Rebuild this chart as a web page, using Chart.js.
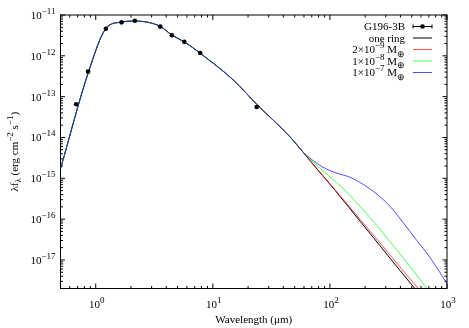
<!DOCTYPE html>
<html>
<head>
<meta charset="utf-8">
<script src="https://cdn.jsdelivr.net/npm/chart.js@4.4.0/dist/chart.umd.min.js"></script>
<style>
html, body { margin: 0; padding: 0; background: #fff; }
canvas { display: block; }
</style>
</head>
<body>
<canvas id="sed" width="469" height="328"></canvas>
<script>
// photometry of G196-3B (wavelength in micron, lambda*f_lambda in erg cm^-2 s^-1)
const obsWave = [0.68, 0.86, 1.22, 1.66, 2.16, 3.55, 4.47, 5.7, 7.8, 23.7]
const obsFlux = [6.5e-14, 4.1e-13, 4.6e-12, 6.6e-12, 7.2e-12, 5.2e-12, 3.2e-12, 2.2e-12, 1.17e-12, 5.6e-14]

// model part where all four curves lie on top of each other
const modelWave = [0.5, 0.87, 1.23, 1.65, 2.15, 3.54, 4.48, 5.71, 7.82, 15.0, 23.7, 45.7, 59.3]
const modelFlux = [1.71e-15, 4.15e-13, 4.8e-12, 6.7e-12, 7.1e-12, 5.3e-12, 3.2e-12, 2.2e-12, 1.15e-12, 2.54e-13, 6.5e-14, 1.03e-14, 4.3e-15]

// far-IR tails
const ringWave = [67.7, 110.7, 180.8, 268, 397, 534]
const ringFlux = [2.69e-15, 5.08e-16, 8.9e-17, 2.22e-17, 5.52e-18, 1.96e-18]
const lowWave = [67.7, 110.7, 180.8, 268, 397, 569]
const lowFlux = [2.69e-15, 5.2e-16, 9.9e-17, 2.61e-17, 6.7e-18, 2.0e-18]
const midWave = [67.7, 134.6, 180.8, 268, 483, 676]
const midFlux = [2.92e-15, 5.08e-16, 2.06e-16, 5.6e-17, 6.9e-18, 2.0e-18]
const highWave = [67.7, 87.4, 115, 148.6, 192, 253, 326, 421, 544, 716, 1000]
const highFlux = [3.1e-15, 1.86e-15, 1.33e-15, 1.06e-15, 7.1e-16, 4.05e-16, 2.06e-16, 8.3e-17, 3.18e-17, 1.15e-17, 2.65e-18]

// axes
const xMajor = [1, 10, 100, 1000]
const xExp = ['0', '1', '2', '3']
const yMajor = [1e-17, 1e-16, 1e-15, 1e-14, 1e-13, 1e-12, 1e-11]
const yExp = ['−17', '−16', '−15', '−14', '−13', '−12', '−11']
const xDecades = [0.1, 1, 10, 100]
const yDecades = [1e-18, 1e-17, 1e-16, 1e-15, 1e-14, 1e-13, 1e-12]

const xTitle = [['Wavelength (μm)', '']]
const yTitle = [['λf', ''], ['λ', 'sub'], [' (erg cm', ''], ['−2', 'sup'], [' s', ''], ['−1', 'sup'], [')', '']]
const legendRuns = [
    [['G196-3B', '']],
    [['one ring', '']],
    [['2×10', ''], ['−9', 'sup'], [' M', ''], ['⊕', 'sub']],
    [['1×10', ''], ['−8', 'sup'], [' M', ''], ['⊕', 'sub']],
    [['1×10', ''], ['−7', 'sup'], [' M', ''], ['⊕', 'sub']]
]

const serif = '"Liberation Serif", "Times New Roman", serif'
const fonts = { '': '11px ' + serif, sup: '9px ' + serif, sub: '9px ' + serif }
const shift = { '': 0, sup: -5, sub: 3.5 }

const pts = (xs, ys) => xs.map((x, i) => ({ x: x, y: ys[i] }))

const minors = (decades, lo, hi) => {
    const out = []
    decades.forEach(d => {
        for (let m = 2; m <= 9; m++) {
            const v = d * m
            if (v >= lo && v <= hi) out.push(v)
        }
    })
    return out
}

const drawRuns = (ctx, runs, x, y, align) => {
    let w = 0
    runs.forEach(([t, k]) => { ctx.font = fonts[k]; w += ctx.measureText(t).width })
    let cx = align === 'right' ? x - w : align === 'center' ? x - w / 2 : x
    runs.forEach(([t, k]) => {
        ctx.font = fonts[k]
        ctx.fillText(t, cx, y + shift[k])
        cx += ctx.measureText(t).width
    })
}

const gnuFrame = {
    id: 'gnuFrame',
    beforeDatasetsDraw(chart) {
        const { ctx, chartArea: a } = chart
        const x = chart.scales.x
        const y = chart.scales.y
        ctx.save()
        ctx.strokeStyle = '#000'
        ctx.lineWidth = 1
        ctx.strokeRect(a.left, a.top, a.right - a.left, a.bottom - a.top)

        ctx.beginPath()
        const xTick = (v, len) => {
            const px = x.getPixelForValue(v)
            ctx.moveTo(px, a.bottom); ctx.lineTo(px, a.bottom - len)
            ctx.moveTo(px, a.top); ctx.lineTo(px, a.top + len)
        }
        const yTick = (v, len) => {
            const py = y.getPixelForValue(v)
            ctx.moveTo(a.left, py); ctx.lineTo(a.left + len, py)
            ctx.moveTo(a.right, py); ctx.lineTo(a.right - len, py)
        }
        xMajor.forEach(v => xTick(v, 5))
        minors(xDecades, x.min, x.max).forEach(v => xTick(v, 2.5))
        yMajor.forEach(v => yTick(v, 4.5))
        minors(yDecades, y.min, y.max).forEach(v => yTick(v, 2.5))
        ctx.stroke()

        ctx.fillStyle = '#000'
        ctx.textAlign = 'left'
        ctx.textBaseline = 'alphabetic'
        xMajor.forEach((v, i) => drawRuns(ctx, [['10', ''], [xExp[i], 'sup']], x.getPixelForValue(v) + 1, a.bottom + 19, 'center'))
        yMajor.forEach((v, i) => drawRuns(ctx, [['10', ''], [yExp[i], 'sup']], a.left - 5, y.getPixelForValue(v) + 4, 'right'))
        drawRuns(ctx, xTitle, (a.left + a.right) / 2, a.bottom + 34, 'center')

        ctx.translate(17.5, (a.top + a.bottom) / 2)
        ctx.rotate(-Math.PI / 2)
        drawRuns(ctx, yTitle, 0, 0, 'center')
        ctx.restore()
    },
    afterDatasetsDraw(chart) {
        const { ctx, chartArea: a } = chart
        const textRight = a.right - 42
        const x0 = a.right - 34
        const x1 = a.right - 15
        ctx.save()
        ctx.textAlign = 'left'
        ctx.textBaseline = 'alphabetic'
        chart.data.datasets.forEach((ds, i) => {
            const ly = a.top + 11.5 + i * 11.5
            ctx.fillStyle = '#000'
            drawRuns(ctx, legendRuns[i], textRight, ly + 3.5, 'right')
            ctx.strokeStyle = ds.borderColor
            ctx.lineWidth = i === 0 ? 1 : ds.borderWidth
            ctx.beginPath()
            ctx.moveTo(x0, ly); ctx.lineTo(x1, ly)
            if (i === 0) {
                ctx.moveTo(x0, ly - 2); ctx.lineTo(x0, ly + 2)
                ctx.moveTo(x1, ly - 2); ctx.lineTo(x1, ly + 2)
            }
            ctx.stroke()
            if (i === 0) {
                ctx.fillStyle = '#000'
                ctx.beginPath()
                ctx.arc((x0 + x1) / 2, ly, 2.3, 0, Math.PI * 2)
                ctx.fill()
            }
        })
        ctx.restore()
    }
}

const modelLine = (label, wave, flux, color, width, order) => ({
    label: label,
    data: pts(modelWave.concat(wave), modelFlux.concat(flux)),
    showLine: true,
    borderColor: color,
    borderWidth: width,
    pointRadius: 0,
    cubicInterpolationMode: 'monotone',
    order: order
})

const chart = new Chart(document.querySelector('#sed'), {
    type: 'scatter',
    data: {
        datasets: [
            {
                label: 'G196-3B',
                data: pts(obsWave, obsFlux),
                borderColor: '#000',
                backgroundColor: '#000',
                pointRadius: 2.3,
                pointBorderWidth: 0,
                order: 0
            },
            modelLine('one ring', ringWave, ringFlux, '#000', 1, 4),
            modelLine('2×10⁻⁹ M⊕', lowWave, lowFlux, '#ff0000', 0.7, 3),
            modelLine('1×10⁻⁸ M⊕', midWave, midFlux, '#00ff00', 0.7, 2),
            modelLine('1×10⁻⁷ M⊕', highWave, highFlux, '#0000ff', 0.7, 1)
        ]
    },
    options: {
        responsive: false,
        animation: false,
        devicePixelRatio: 1,
        layout: { padding: { top: 15, right: 22, bottom: 0, left: 0 } },
        plugins: { legend: { display: false }, tooltip: { enabled: false } },
        scales: {
            x: {
                type: 'logarithmic',
                min: 0.5,
                max: 1000,
                ticks: { display: false },
                grid: { display: false },
                border: { display: false },
                afterFit: s => { s.height = 39.5; s.paddingLeft = 0; s.paddingRight = 0 }
            },
            y: {
                type: 'logarithmic',
                min: 2e-18,
                max: 1e-11,
                ticks: { display: false },
                grid: { display: false },
                border: { display: false },
                afterFit: s => { s.width = 60.5; s.paddingTop = 0; s.paddingBottom = 0 }
            }
        }
    },
    plugins: [gnuFrame]
})
</script>
</body>
</html>
